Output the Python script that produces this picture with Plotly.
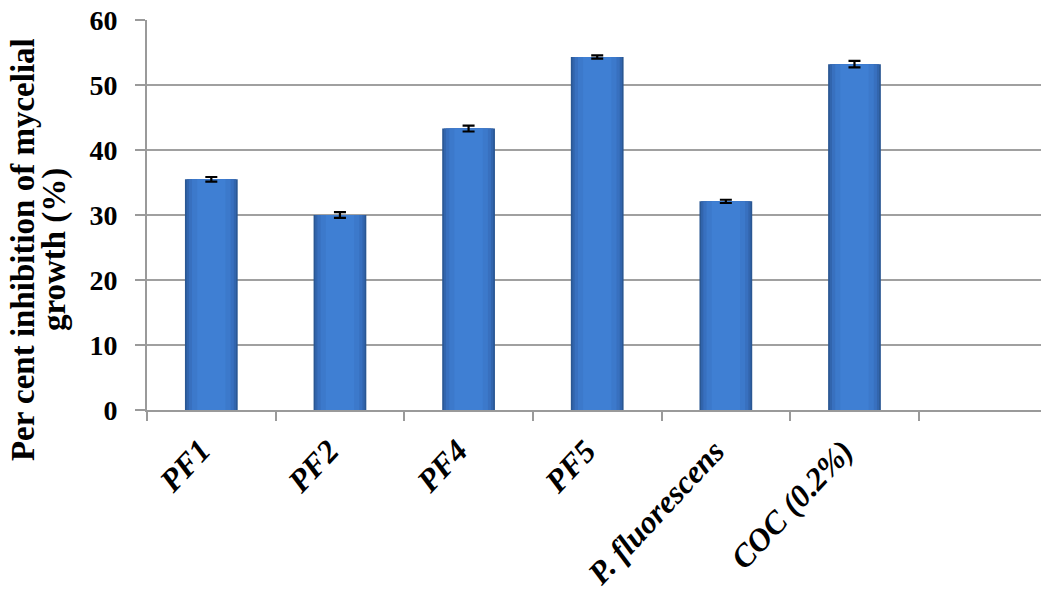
import plotly.graph_objects as go

categories = ["PF1", "PF2", "PF4", "PF5", "P. fluorescens", "COC (0.2%)"]
values = [35.5, 30.0, 43.3, 54.3, 32.1, 53.2]
errors = [0.35, 0.45, 0.45, 0.25, 0.25, 0.5]
y_ticks = [0, 10, 20, 30, 40, 50, 60]
y_title_lines = ["Per cent inhibition of mycelial", "growth (%)"]

FONT = "Liberation Serif"
xs = list(range(len(categories)))

fig = go.Figure()
# layered bars to mimic the horizontal shading of the original bars
layers = [(0.41, "#2A5793"), (0.385, "#3265AD"), (0.35, "#3870BF"),
          (0.30, "#3C79CB"), (0.22, "#3F7FD3")]
for i, (w, c) in enumerate(layers):
    last = i == len(layers) - 1
    fig.add_trace(go.Bar(
        x=xs, y=values, width=w,
        marker=dict(color=c, line=dict(width=0)),
        error_y=dict(type="data", array=errors, visible=last, color="black",
                     thickness=2.2, width=6),
    ))

fig.update_layout(
    width=1041, height=591,
    margin=dict(l=147, r=0, t=20, b=181),
    paper_bgcolor="white", plot_bgcolor="white",
    showlegend=False,
    barmode="overlay",
)
fig.update_xaxes(
    tickmode="array",
    tickvals=[i - 0.5 for i in range(len(categories) + 1)],
    showticklabels=False,
    range=[-0.5, 6.45],
    showgrid=False,
    showline=True, linecolor="#9A9A9A", linewidth=2,
    ticks="outside", ticklen=9, tickcolor="#9A9A9A", tickwidth=2,
    zeroline=False, automargin=False,
)
# category labels, rotated, hanging below each bar
for i, c in enumerate(categories):
    fig.add_annotation(
        x=i, y=0, xref="x", yref="y",
        text="<b><i>%s</i></b>" % c, showarrow=False,
        textangle=-47, xanchor="right", yanchor="top",
        xshift=9, yshift=-20,
        font=dict(family=FONT, size=32, color="black"),
    )
fig.update_yaxes(
    range=[0, 60],
    tickmode="array", tickvals=y_ticks,
    ticktext=["<b>%d</b>" % v for v in y_ticks],
    showgrid=True, gridcolor="#A0A0A0", gridwidth=2,
    showline=True, linecolor="#9A9A9A", linewidth=2,
    ticks="outside", ticklen=10, tickcolor="#9A9A9A", tickwidth=2,
    ticklabelstandoff=12,
    tickfont=dict(family=FONT, size=28, color="black"),
    zeroline=False, automargin=False,
)
# two-line y-axis title
for line, xs_px in zip(y_title_lines, [-124, -93]):
    fig.add_annotation(
        x=0, y=0.41, xref="paper", yref="paper",
        text="<b>%s</b>" % line, showarrow=False, textangle=-90,
        xanchor="center", yanchor="middle", xshift=xs_px,
        font=dict(family=FONT, size=33, color="black"),
    )

# remove the default page margin so the figure fills the window exactly
fig.write_html("out.html", config={"displayModeBar": False},
               post_script="document.body.style.margin='0';")
